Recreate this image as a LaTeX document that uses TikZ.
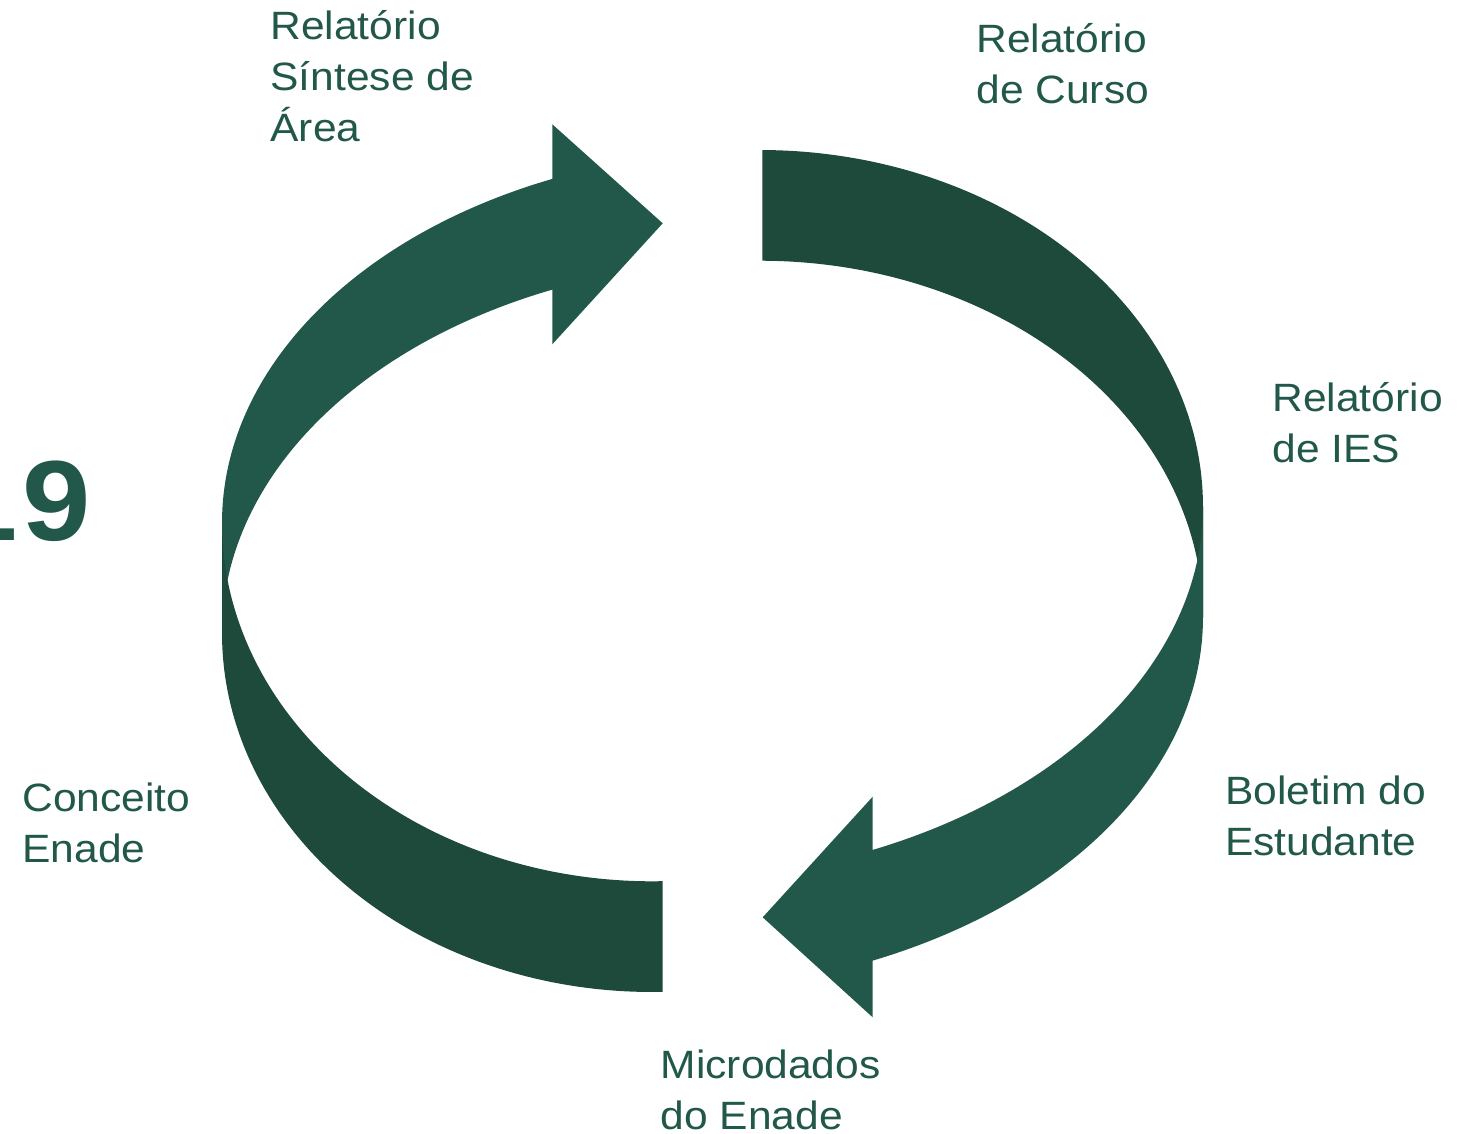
\documentclass[tikz,border=0pt]{standalone}
\usepackage{fontspec}
\setmainfont{Liberation Sans}[FakeStretch=1.077]
\definecolor{lightg}{HTML}{22584A}
\definecolor{darkg}{HTML}{1E4A3B}
\tikzset{
  lbl/.style={anchor=base west, inner sep=0pt, outer sep=0pt, text=lightg,
    font=\fontsize{19.75}{25.5}\selectfont},
  ptl/.style={variable=\t, samples=120}
}
\newcommand{\lines}[1]{\begin{tabular}[t]{@{}l@{}}#1\end{tabular}}
\begin{document}
\begin{tikzpicture}[x=0.5pt,y=-0.5pt]
\useasboundingbox (0,0) rectangle (1466,1134);
\clip (0,0) rectangle (1466,1134);
\fill[white] (0,0) rectangle (1466,1134);
% left arrow, back (light) part
\fill[lightg] plot[ptl,domain=180:247.29] ({760+538*cos(\t)},{522.7+372.7*sin(\t)})
  -- (552.3,124.3) -- (662.7,223.3) -- (552.3,344.3)
  -- plot[ptl,domain=247.29:180] ({760+538*cos(\t)},{633.4+372.7*sin(\t)}) -- cycle;
% left arrow, front (dark) part
\fill[darkg] plot[ptl,domain=180:88.57] ({652+430*cos(\t)},{522.7+358.6*sin(\t)})
  -- plot[ptl,domain=88.57:180] ({652+430*cos(\t)},{633.4+358.6*sin(\t)}) -- cycle;
% right arrow, back (dark) part
\fill[darkg] plot[ptl,domain=270.3:360] ({760+443*cos(\t)},{506.7+356.7*sin(\t)})
  -- plot[ptl,domain=360:270.3] ({760+443*cos(\t)},{617.4+356.7*sin(\t)}) -- cycle;
% right arrow, front (light) part
\fill[lightg] plot[ptl,domain=0:66.39] ({652+551*cos(\t)},{506.7+374.6*sin(\t)})
  -- (872.7,796.7) -- (762.7,917.3) -- (872.7,1017.3)
  -- plot[ptl,domain=66.39:0] ({652+551*cos(\t)},{617.4+374.6*sin(\t)}) -- cycle;
% labels
\node[lbl] (sintese) at (270.5,39.3) {\lines{Relatório\\Síntese de\\Área}};
\node[lbl] (curso) at (976.5,52.5) {\lines{Relatório\\de Curso}};
\node[lbl] (ies) at (1272.5,411) {\lines{Relatório\\de IES}};
\node[lbl] (boletim) at (1225,804) {\lines{Boletim do\\Estudante}};
\node[lbl] (micro) at (660.7,1078.3) {\lines{Microdados\\do Enade}};
\node[lbl] (conceito) at (22.5,811) {\lines{Conceito\\Enade}};
\node[anchor=base west, inner sep=0pt, text=lightg,
  font=\fontsize{57}{60}\selectfont\bfseries] (year) at (-51,540) {1\kern2.5pt 9};
\end{tikzpicture}
\end{document}
